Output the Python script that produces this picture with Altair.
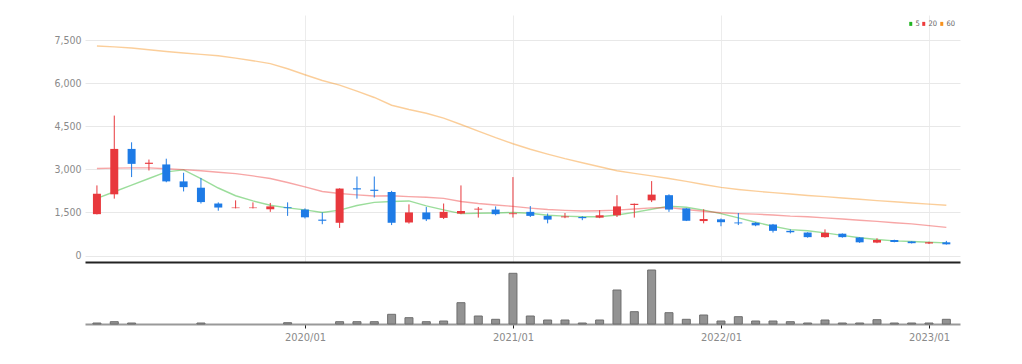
import altair as alt
import pandas as pd

# ---- data ----
months = ["2019/01", "2019/02", "2019/03", "2019/04", "2019/05", "2019/06", "2019/07", "2019/08", "2019/09", "2019/10",
          "2019/11", "2019/12", "2020/01", "2020/02", "2020/03", "2020/04", "2020/05", "2020/06", "2020/07", "2020/08",
          "2020/09", "2020/10", "2020/11", "2020/12", "2021/01", "2021/02", "2021/03", "2021/04", "2021/05", "2021/06",
          "2021/07", "2021/08", "2021/09", "2021/10", "2021/11", "2021/12", "2022/01", "2022/02", "2022/03", "2022/04",
          "2022/05", "2022/06", "2022/07", "2022/08", "2022/09", "2022/10", "2022/11", "2022/12", "2023/01", "2023/02"]

open_ = [1440, 2130, 3710, 3190, 3170, 2580, 2360, 1810, 1650, 1650,
         1610, 1680, 1600, 1250, 1140, 2340, 2290, 2210, 1150, 1500,
         1310, 1460, 1600, 1600, 1440, 1520, 1380, 1330, 1340, 1320,
         1400, 1760, 1920, 2100, 1640, 1200, 1260, 1150, 1140, 1080,
         860, 800, 640, 760, 630, 450, 540, 490, 420, 460]
close_ = [2150, 3710, 3190, 3230, 2580, 2380, 1860, 1670, 1670, 1670,
          1710, 1650, 1330, 1210, 2330, 2300, 2250, 1140, 1500, 1260,
          1520, 1550, 1630, 1440, 1470, 1380, 1250, 1360, 1300, 1400,
          1710, 1800, 2120, 1600, 1210, 1270, 1160, 1120, 1050, 860,
          810, 640, 790, 640, 460, 540, 470, 430, 460, 390]
high_ = [2440, 4870, 3940, 3340, 3370, 2880, 2700, 1850, 1920, 1850,
         1830, 1850, 1640, 1500, 2340, 2750, 2750, 2250, 1780, 1690,
         1810, 2440, 1690, 1710, 2730, 1720, 1460, 1480, 1370, 1580,
         2100, 1810, 2590, 2130, 1650, 1610, 1290, 1480, 1160, 1100,
         910, 810, 910, 770, 640, 600, 550, 500, 480, 510]
low_ = [1430, 1980, 2730, 2960, 2550, 2230, 1810, 1560, 1640, 1640,
        1520, 1380, 1290, 1090, 960, 1980, 2020, 1060, 1110, 1200,
        1270, 1440, 1320, 1400, 1320, 1340, 1120, 1300, 1230, 1300,
        1340, 1320, 1860, 1520, 1200, 1120, 1020, 1060, 1020, 800,
        770, 620, 620, 620, 440, 430, 460, 420, 400, 380]
volume = [10, 23, 10, 0, 0, 0, 10, 0, 0, 0,
          0, 13, 0, 0, 23, 23, 23, 97, 63, 23,
          30, 213, 80, 47, 507, 80, 40, 40, 10, 40,
          340, 123, 540, 113, 47, 90, 30, 73, 30, 30,
          23, 10, 40, 10, 10, 43, 10, 10, 10, 47]

ma5 = [1990, 2220, 2450, 2680, 2910, 2980, 2680, 2350, 2080, 1900,
       1750, 1660, 1590, 1500, 1580, 1740, 1850, 1880, 1900, 1730,
       1590, 1460, 1470, 1480, 1500, 1470, 1400, 1370, 1350, 1350,
       1410, 1500, 1610, 1720, 1680, 1580, 1460, 1310, 1160, 1020,
       900, 860, 790, 700, 620, 560, 510, 490, 460, 440]
ma20 = [3030, 3040, 3050, 3050, 3020, 2990, 2950, 2900, 2850, 2770,
        2680, 2540, 2390, 2230, 2160, 2110, 2070, 2080, 2050, 2030,
        1990, 1880, 1810, 1760, 1710, 1650, 1600, 1570, 1550, 1560,
        1580, 1620, 1660, 1670, 1600, 1540, 1490, 1460, 1440, 1410,
        1370, 1350, 1310, 1270, 1230, 1190, 1140, 1100, 1040, 980]
ma60 = [7290, 7260, 7220, 7160, 7100, 7050, 7000, 6950, 6870, 6780,
        6680, 6500, 6290, 6090, 5930, 5720, 5500, 5230, 5080, 4950,
        4780, 4560, 4330, 4100, 3890, 3700, 3530, 3370, 3230, 3090,
        2950, 2860, 2770, 2680, 2580, 2470, 2370, 2300, 2240, 2190,
        2140, 2090, 2050, 2000, 1960, 1910, 1870, 1830, 1790, 1750]

ma_names = ["5", "20", "60"]
ma_colors = ["#22b422", "#ee3a3a", "#f7921e"]
price_ticks = [0, 1500, 3000, 4500, 6000, 7500]
tick_labels = ["2020/01", "2021/01", "2022/01", "2023/01"]

RED = "#e8383d"
BLUE = "#1e7be6"
FONT = "Liberation Sans Narrow, DejaVu Sans Condensed, Roboto, sans-serif"
LABEL_GREY = "#8a8a8a"

# ---- tables ----
df = pd.DataFrame({
    "idx": list(range(len(months))),
    "month": months,
    "open": open_, "close": close_, "high": high_, "low": low_,
    "volume": volume,
})
ma_rows = []
for name, series in zip(ma_names, [ma5, ma20, ma60]):
    for i, v in enumerate(series):
        ma_rows.append({"idx": i, "series": name, "value": v})
ma_df = pd.DataFrame(ma_rows)

tick_idx = [months.index(t) for t in tick_labels]
label_expr = " : ".join(f"datum.value == {i} ? '{t}'" for i, t in zip(tick_idx, tick_labels)) + " : ''"

x_scale = alt.Scale(domain=[-0.4, 49.5], nice=False, zero=False)
y_scale = alt.Scale(domain=[-225, 8370], nice=False, zero=False)

x_price = alt.X("idx:Q", scale=x_scale,
                axis=alt.Axis(values=tick_idx, labels=False, ticks=False, domain=True,
                              domainColor="#222222", domainWidth=2, grid=True,
                              gridColor="#ececec", title=None))
y_axis = alt.Axis(values=price_ticks, format=",.0f", labelColor=LABEL_GREY, labelFont=FONT,
                  labelFontSize=10.5, ticks=False, domain=False, grid=True, gridColor="#e8e8e8",
                  labelPadding=4, minExtent=40, maxExtent=40, title=None)

lines = alt.Chart(ma_df).mark_line(strokeWidth=1.4, opacity=0.45).encode(
    x=x_price,
    y=alt.Y("value:Q", scale=y_scale, axis=y_axis),
    color=alt.Color("series:N", sort=ma_names,
                    scale=alt.Scale(domain=ma_names, range=ma_colors),
                    legend=alt.Legend(title=None, orient="none", legendX=822, legendY=5,
                                      direction="horizontal", symbolType="M0,-1L0,1",
                                      symbolStrokeWidth=3, symbolSize=16, symbolOpacity=1,
                                      labelFontSize=7.5, labelFont=FONT, labelColor="#666666",
                                      labelOffset=1, columnPadding=-6, padding=0)),
)

cond = alt.condition("datum.close >= datum.open", alt.value(RED), alt.value(BLUE))
candle_base = alt.Chart(df).encode(x=x_price)
wicks = candle_base.mark_rule(strokeWidth=1).encode(
    y=alt.Y("low:Q", scale=y_scale, axis=y_axis), y2="high:Q", color=cond)
bodies = candle_base.mark_bar(size=8).encode(
    y=alt.Y("open:Q", scale=y_scale, axis=y_axis), y2="close:Q", color=cond)

price = alt.layer(lines, wicks, bodies).properties(width=875, height=247)

vol = alt.Chart(df).transform_filter("datum.volume > 0").mark_bar(
    size=8, color="#939393", stroke="#6e6e6e", strokeWidth=1).encode(
    x=alt.X("idx:Q", scale=x_scale,
            axis=alt.Axis(values=tick_idx, labelExpr=label_expr, tickColor="#222222", tickSize=4,
                          tickWidth=1, domainColor="#999999", domainWidth=2, grid=False,
                          labelColor=LABEL_GREY, labelFontSize=11, labelFont=FONT,
                          labelPadding=3, title=None)),
    y=alt.Y("volume:Q", scale=alt.Scale(domain=[0, 620], nice=False),
            axis=alt.Axis(labels=False, ticks=False, domain=False, grid=False, title=None,
                          minExtent=40, maxExtent=40)),
).properties(width=875, height=62)

chart = alt.vconcat(price, vol, spacing=0).resolve_legend(color="independent").properties(
    padding={"left": 37, "top": 7, "right": 10, "bottom": 5}
).configure_view(stroke=None)

chart.save("out.html", embed_options={"renderer": "svg", "actions": False})
